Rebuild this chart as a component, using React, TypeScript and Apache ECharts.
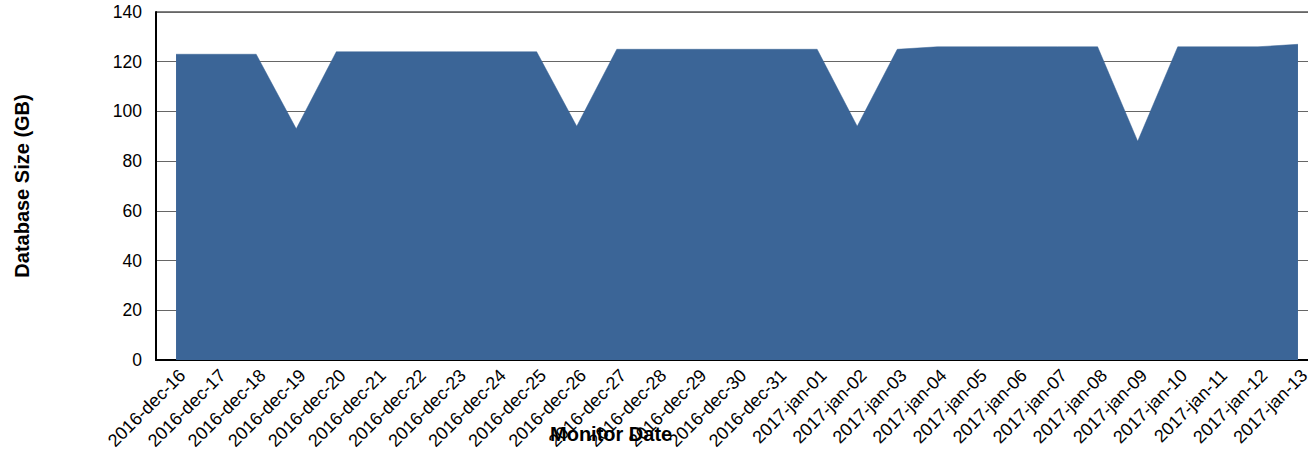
import React, { useEffect, useRef } from "react";
import * as echarts from "echarts";

const categories = [
  "2016-dec-16", "2016-dec-17", "2016-dec-18", "2016-dec-19", "2016-dec-20",
  "2016-dec-21", "2016-dec-22", "2016-dec-23", "2016-dec-24", "2016-dec-25",
  "2016-dec-26", "2016-dec-27", "2016-dec-28", "2016-dec-29", "2016-dec-30",
  "2016-dec-31", "2017-jan-01", "2017-jan-02", "2017-jan-03", "2017-jan-04",
  "2017-jan-05", "2017-jan-06", "2017-jan-07", "2017-jan-08", "2017-jan-09",
  "2017-jan-10", "2017-jan-11", "2017-jan-12", "2017-jan-13",
];

const databaseSizeGB = [
  123, 123, 123, 93, 124,
  124, 124, 124, 124, 124,
  94, 125, 125, 125, 125,
  125, 125, 94, 125, 126,
  126, 126, 126, 126, 88,
  126, 126, 126, 127,
];

const yAxisMin = 0;
const yAxisMax = 140;
const yAxisInterval = 20;

const FONT = "'Liberation Sans', Arial, Helvetica, sans-serif";

export default function App() {
  const ref = useRef<HTMLDivElement>(null);

  useEffect(() => {
    if (!ref.current) return;
    const chart = echarts.init(ref.current, undefined, { renderer: "svg" });
    chart.setOption({
      animation: false,
      backgroundColor: "#ffffff",
      textStyle: { fontFamily: FONT },
      grid: {
        left: 156,
        right: 0,
        top: 12,
        bottom: 104,
        show: true,
        borderColor: "#000000",
        borderWidth: 1,
        containLabel: false,
      },
      xAxis: {
        type: "category",
        data: categories,
        boundaryGap: true,
        axisLine: { show: true, lineStyle: { color: "#000000", width: 2 } },
        axisTick: { show: false },
        axisLabel: {
          interval: 0,
          rotate: 45,
          margin: 6,
          verticalAlign: "top",
          color: "#000000",
          fontSize: 18,
          fontFamily: FONT,
        },
        splitLine: { show: false },
      },
      yAxis: {
        type: "value",
        min: yAxisMin,
        max: yAxisMax,
        interval: yAxisInterval,
        name: "Database Size (GB)",
        nameLocation: "middle",
        nameRotate: 90,
        nameGap: 124,
        nameTextStyle: {
          fontSize: 20,
          fontWeight: "bold",
          color: "#000000",
          fontFamily: FONT,
        },
        axisLine: { show: true, lineStyle: { color: "#000000", width: 2 } },
        axisTick: { show: false },
        axisLabel: {
          margin: 14,
          color: "#000000",
          fontSize: 17.5,
          fontFamily: FONT,
        },
        splitLine: { show: true, lineStyle: { color: "#666666", width: 1 } },
      },
      graphic: [
        {
          type: "text",
          left: 550,
          top: 424,
          z: 100,
          style: {
            text: "Monitor Date",
            font: `bold 20px ${FONT}`,
            fill: "#000000",
          },
        },
      ],
      series: [
        {
          type: "line",
          data: databaseSizeGB,
          symbol: "none",
          lineStyle: { width: 0.5, color: "#3b6597" },
          areaStyle: { color: "#3b6597", opacity: 1 },
          z: 3,
        },
      ],
    });
    return () => chart.dispose();
  }, []);

  return (
    <div
      ref={ref}
      style={{ position: "fixed", left: 0, top: 0, width: 1318, height: 464 }}
    />
  );
}
